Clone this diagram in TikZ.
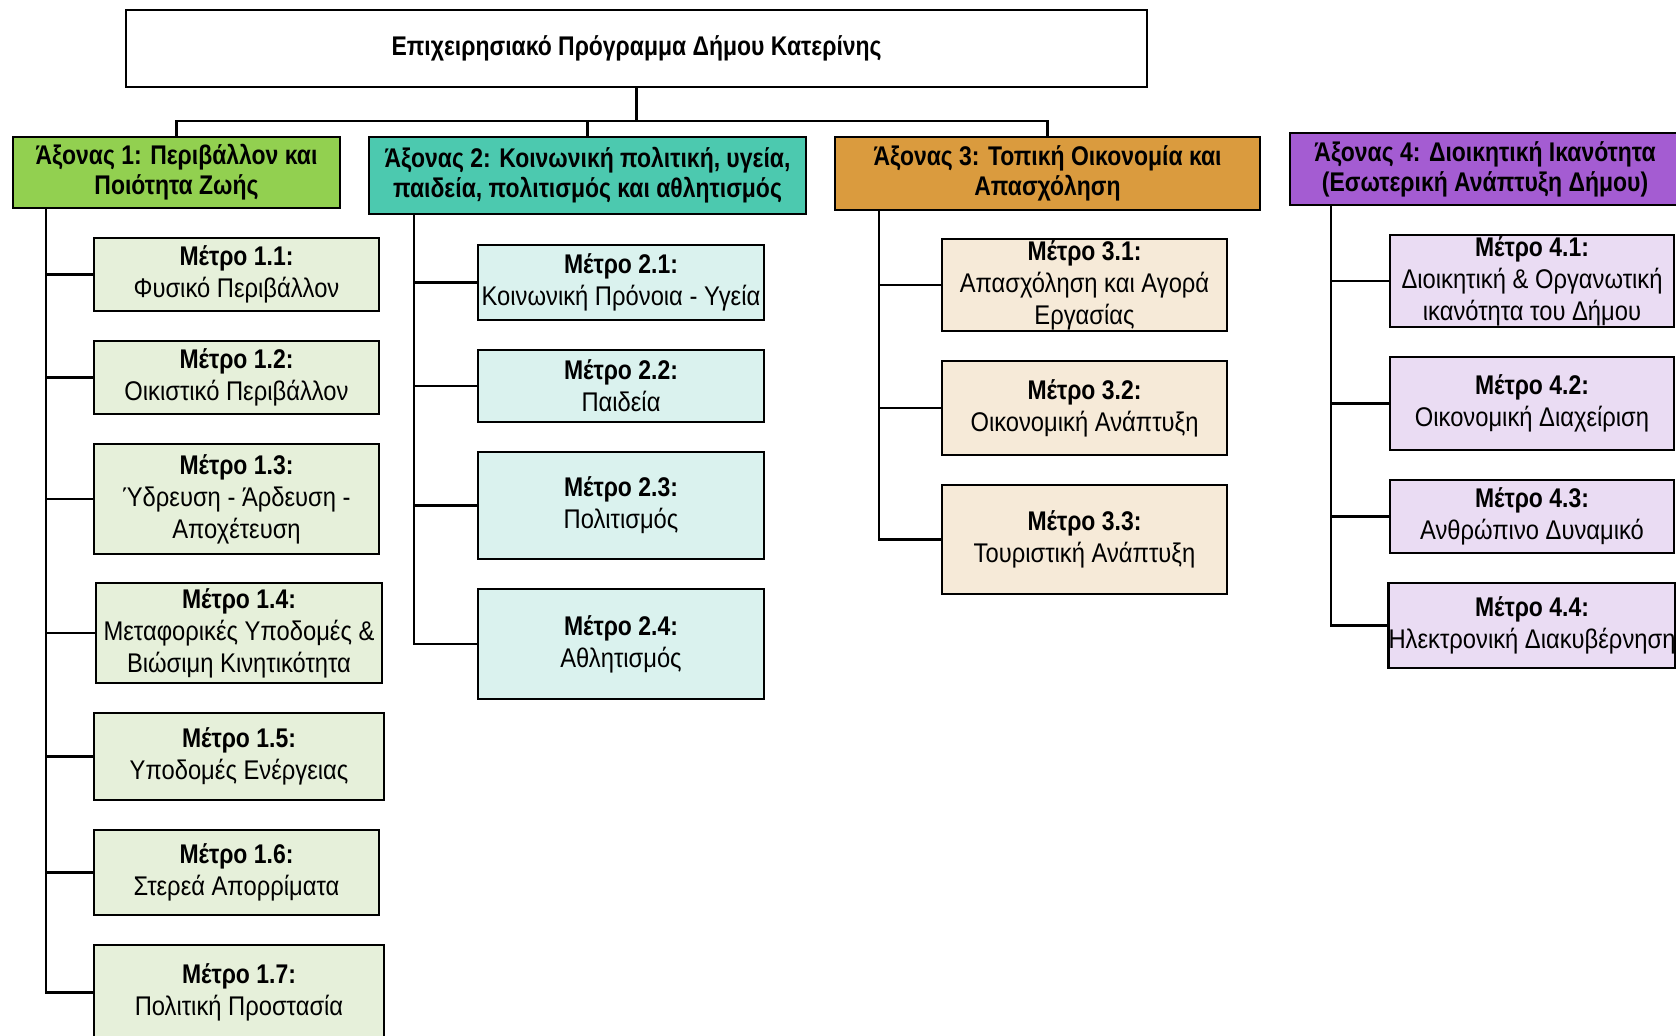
\documentclass[tikz,border=0pt]{standalone}
\usepackage{fontspec}
\setmainfont[FakeStretch=0.88,BoldFeatures={FakeStretch=0.85}]{Liberation Sans}
\definecolor{axisA}{HTML}{92D050}
\definecolor{axisB}{HTML}{4CC9AF}
\definecolor{axisC}{HTML}{DA9B3E}
\definecolor{axisD}{HTML}{A45CD2}
\definecolor{metroA}{HTML}{E6F0DA}
\definecolor{metroB}{HTML}{DAF2EE}
\definecolor{metroC}{HTML}{F6EAD8}
\definecolor{metroD}{HTML}{EADCF3}
\tikzset{
  box/.style={draw,line width=1.4pt,align=center,inner sep=0pt,
    font=\fontsize{13.5}{16}\selectfont},
  axis/.style={box,font=\fontsize{13.5}{15}\selectfont\bfseries},
  metro/.style={box,minimum width=#1},
  link/.style={line width=1.4pt}
}
\begin{document}
\begin{tikzpicture}[x=0.5pt,y=-0.5pt]
\useasboundingbox (0,0) rectangle (1676,1035);

\node [box,font=\fontsize{13.5}{15}\selectfont\bfseries,minimum width=510.5pt,minimum height=38.5pt] (top) at (636.5,48.5) {Επιχειρησιακό Πρόγραμμα Δήμου Κατερίνης};

\node [axis,fill=axisA,minimum width=163.5pt,minimum height=35.5pt] (ax1) at (176.5,172.5) {Άξονας 1: Περιβάλλον και\\Ποιότητα Ζωής};
\node [axis,fill=axisB,minimum width=218.5pt,minimum height=38.5pt] (ax2) at (587.5,175.5) {Άξονας 2: Κοινωνική πολιτική, υγεία,\\παιδεία, πολιτισμός και αθλητισμός};
\node [axis,fill=axisC,minimum width=212.5pt,minimum height=36.5pt] (ax3) at (1047.5,173.5) {Άξονας 3: Τοπική Οικονομία και\\Απασχόληση};
\node [axis,fill=axisD,minimum width=195pt,minimum height=36pt] (ax4) at (1485,169) {Άξονας 4: Διοικητική Ικανότητα\\(Εσωτερική Ανάπτυξη Δήμου)};

\coordinate (bus) at (636.5,121);
\draw[link] (top.south) -- (bus);
\draw[link] (ax1.north) |- (bus) -| (ax3.north);
\draw[link] (ax2.north) -- (ax2.north |- bus);

% axis 1
\node [metro=142.5pt,fill=metroA,minimum height=36.5pt] (m11) at (236.5,274.5) {\textbf{Μέτρο 1.1:}\\Φυσικό Περιβάλλον};
\node [metro=142.5pt,fill=metroA,minimum height=36.5pt] (m12) at (236.5,377.5) {\textbf{Μέτρο 1.2:}\\Οικιστικό Περιβάλλον};
\node [metro=142.5pt,fill=metroA,minimum height=55pt] (m13) at (236.5,499) {\textbf{Μέτρο 1.3:}\\Ύδρευση - Άρδευση -\\Αποχέτευση};
\node [metro=143pt,fill=metroA,minimum height=50pt] (m14) at (239,633) {\textbf{Μέτρο 1.4:}\\Μεταφορικές Υποδομές \&\\Βιώσιμη Κινητικότητα};
\node [metro=145pt,fill=metroA,minimum height=43.5pt] (m15) at (239,756.5) {\textbf{Μέτρο 1.5:}\\Υποδομές Ενέργειας};
\node [metro=142.5pt,fill=metroA,minimum height=42.5pt] (m16) at (236.5,872.5) {\textbf{Μέτρο 1.6:}\\Στερεά Απορρίματα};
\node [metro=145pt,fill=metroA,minimum height=47.5pt] (m17) at (239,992.5) {\textbf{Μέτρο 1.7:}\\Πολιτική Προστασία};

% axis 2
\node [metro=143pt,fill=metroB,minimum height=37.5pt] (m21) at (621,282.5) {\textbf{Μέτρο 2.1:}\\Κοινωνική Πρόνοια - Υγεία};
\node [metro=143pt,fill=metroB,minimum height=36pt] (m22) at (621,386) {\textbf{Μέτρο 2.2:}\\Παιδεία};
\node [metro=143pt,fill=metroB,minimum height=53.5pt] (m23) at (621,505.5) {\textbf{Μέτρο 2.3:}\\Πολιτισμός};
\node [metro=143pt,fill=metroB,minimum height=55pt] (m24) at (621,644) {\textbf{Μέτρο 2.4:}\\Αθλητισμός};

% axis 3
\node [metro=142.5pt,fill=metroC,minimum height=46pt] (m31) at (1084.5,285) {\textbf{Μέτρο 3.1:}\\Απασχόληση και Αγορά\\Εργασίας};
\node [metro=142.5pt,fill=metroC,minimum height=47pt] (m32) at (1084.5,408) {\textbf{Μέτρο 3.2:}\\Οικονομική Ανάπτυξη};
\node [metro=142.5pt,fill=metroC,minimum height=54.5pt] (m33) at (1084.5,539.5) {\textbf{Μέτρο 3.3:}\\Τουριστική Ανάπτυξη};

% axis 4
\node [metro=142pt,fill=metroD,minimum height=46pt] (m41) at (1532,281) {\textbf{Μέτρο 4.1:}\\Διοικητική \& Οργανωτική\\ικανότητα του Δήμου};
\node [metro=142pt,fill=metroD,minimum height=46.5pt] (m42) at (1532,403.5) {\textbf{Μέτρο 4.2:}\\Οικονομική Διαχείριση};
\node [metro=142pt,fill=metroD,minimum height=36.5pt] (m43) at (1532,516.5) {\textbf{Μέτρο 4.3:}\\Ανθρώπινο Δυναμικό};
\node [metro=142pt,fill=metroD,minimum height=42.5pt] (m44) at (1532,625.5) {\textbf{Μέτρο 4.4:}\\Ηλεκτρονική Διακυβέρνηση};

\coordinate (t1) at (46,208);
\coordinate (t2) at (414,214);
\coordinate (t3) at (879,210);
\coordinate (t4) at (1331,205);
\draw[link] (t1) |- (m17.west);
\draw[link] (t2) |- (m24.west);
\draw[link] (t3) |- (m33.west);
\draw[link] (t4) |- (m44.west);
\foreach \m in {m11,m12,m13,m14,m15,m16}
  \draw[link] (\m.west) -- (\m.west -| t1);
\foreach \m in {m21,m22,m23}
  \draw[link] (\m.west) -- (\m.west -| t2);
\foreach \m in {m31,m32}
  \draw[link] (\m.west) -- (\m.west -| t3);
\foreach \m in {m41,m42,m43}
  \draw[link] (\m.west) -- (\m.west -| t4);
\end{tikzpicture}
\end{document}
